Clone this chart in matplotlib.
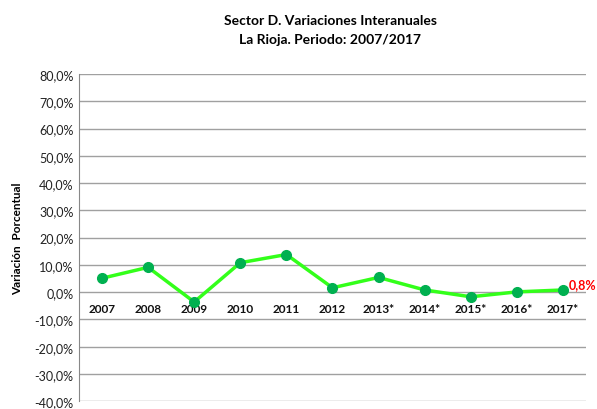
import matplotlib
matplotlib.use("Agg")
import matplotlib.pyplot as plt

categories = ["2007", "2008", "2009", "2010", "2011", "2012", "2013*", "2014*", "2015*", "2016*", "2017*"]
values = [5.1, 9.1, -3.6, 10.8, 13.8, 1.6, 5.4, 0.8, -1.7, 0.1, 0.8]
yticks = [-40, -30, -20, -10, 0, 10, 20, 30, 40, 50, 60, 70, 80]
title = "Sector D. Variaciones Interanuales\nLa Rioja. Periodo: 2007/2017"
ylabel = "Variación  Porcentual"
last_label = "0,8%"

plt.rcParams['font.family'] = ['Lato', 'DejaVu Sans']

fig = plt.figure(figsize=(5.97, 4.10), dpi=100)
ax = fig.add_axes([0.1323, 0.019, 0.8493, 0.798])

x = list(range(len(categories)))
ax.plot(x, values, color="#33FF1A", lw=2.5, zorder=3)
ax.plot(x, values, ls="none", marker="o", ms=7, color="#00B050", zorder=4)

ax.set_xlim(-0.5, len(categories) - 0.5)
ax.set_ylim(-40, 80)
ax.set_yticks(yticks)
ax.set_yticklabels([f"{v:.1f}%".replace(".", ",") for v in yticks], fontsize=9, color="#222222")
ax.set_xticks([])
ax.yaxis.grid(True, color="#A0A0A0", lw=1)
ax.set_axisbelow(True)
for s in ["top", "right", "bottom"]:
    ax.spines[s].set_visible(False)
ax.spines["left"].set_color("#888888")
ax.tick_params(axis="y", length=0, pad=4)

for xi, c in zip(x, categories):
    ax.text(xi, -6.1, c, ha="center", va="center", fontsize=8.5, fontweight="bold", color="#111111")

ax.annotate(last_label, (x[-1], values[-1]), xytext=(4.5, 4), textcoords="offset points",
            ha="left", va="center", color="#FF0000", fontweight="bold", fontsize=9,
            annotation_clip=False)

ax.set_ylabel(ylabel, fontsize=8.5, fontweight="bold", labelpad=8)
fig.text(0.553, 0.926, title, ha="center", va="center", fontsize=10, fontweight="bold",
         linespacing=1.75)

fig.savefig("out.png", dpi=100)
